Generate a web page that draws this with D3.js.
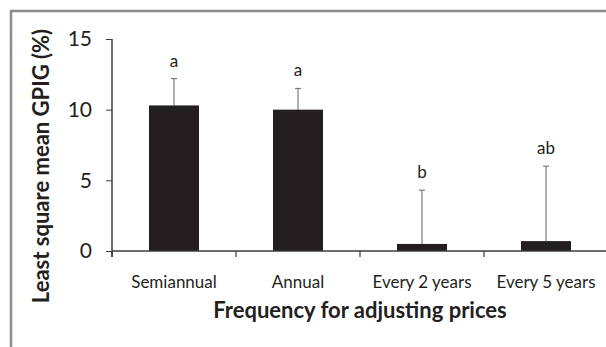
<!DOCTYPE html>
<html>
<head>
<meta charset="utf-8">
<script src="https://cdn.jsdelivr.net/npm/d3@7"></script>
<style>
  body { margin: 0; background: #fff; }
  .axis text { font-family: Lato, "Open Sans", sans-serif; fill: #231f20; }
  .axis path, .axis line { stroke: #3a3a3a; }
</style>
</head>
<body>
<div class="chart"></div>
<script>
const categories = ["Semiannual", "Annual", "Every 2 years", "Every 5 years"]
const means = [10.3, 10.0, 0.5, 0.7]
const upper = [12.2, 11.5, 4.3, 6.0]
const letters = ["a", "a", "b", "ab"]
const yTicks = [0, 5, 10, 15]

const W = 606, H = 347
const margin = ({top: 39, right: -2, bottom: 96, left: 112})
const width = W - margin.left - margin.right
const height = H - margin.top - margin.bottom

const root = d3.select('.chart').append('svg')
    .attr("width", W)
    .attr("height", H)

// grey frame (top and left edges visible)
root.append('path')
    .attr('d', `M11,${H} L11,11 L${W},11`)
    .attr('fill', 'none')
    .attr('stroke', '#8c8c8c')
    .attr('stroke-width', 2.5)

const svg = root.append("g")
    .attr("transform", "translate(" + margin.left + "," + margin.top + ")")

const xScale = d3.scaleBand()
    .domain(categories)
    .range([0, width])

const yScale = d3.scaleLinear()
    .domain([0, 15])
    .range([height, 0])

const barW = 50

// error bars
const err = svg.selectAll('.err')
    .data(categories)
    .enter()
    .append('g')
    .attr('class', 'err')
err.append('line')
    .attr('x1', d => xScale(d) + xScale.bandwidth() / 2)
    .attr('x2', d => xScale(d) + xScale.bandwidth() / 2)
    .attr('y1', (d, i) => yScale(means[i]))
    .attr('y2', (d, i) => yScale(upper[i]))
    .attr('stroke', '#7a7a7a')
    .attr('stroke-width', 1.2)
err.append('line')
    .attr('x1', d => xScale(d) + xScale.bandwidth() / 2 - 3)
    .attr('x2', d => xScale(d) + xScale.bandwidth() / 2 + 3)
    .attr('y1', (d, i) => yScale(upper[i]))
    .attr('y2', (d, i) => yScale(upper[i]))
    .attr('stroke', '#7a7a7a')
    .attr('stroke-width', 1.2)

svg.selectAll('.bar')
    .data(categories)
    .enter()
    .append('rect')
    .attr('class', 'bar')
    .attr('x', d => xScale(d) + xScale.bandwidth() / 2 - barW / 2)
    .attr('y', (d, i) => yScale(means[i]))
    .attr('width', barW)
    .attr('height', (d, i) => height - yScale(means[i]))
    .style('fill', '#231f20')

svg.selectAll('.letter')
    .data(categories)
    .enter()
    .append('text')
    .attr('class', 'letter')
    .attr('x', d => xScale(d) + xScale.bandwidth() / 2)
    .attr('y', (d, i) => yScale(upper[i]) - 12)
    .attr('text-anchor', 'middle')
    .style('font-family', 'Lato, "Open Sans", sans-serif')
    .style('font-size', '17px')
    .style('fill', '#231f20')
    .text((d, i) => letters[i])

const xAxis = d3.axisBottom(xScale)
    .tickSize(0)
    .tickPadding(25)

const xg = svg.append("g")
    .attr("class", "axis x-axis")
    .attr("transform", `translate(0, ${height})`)
    .call(xAxis)
xg.select('.domain').attr('d', `M0,0H${width}`).attr('stroke-width', 1.5)
xg.selectAll('text').style('font-size', '17px')
// category boundary ticks
xg.selectAll('.bound')
    .data(categories)
    .enter()
    .append('line')
    .attr('class', 'bound')
    .attr('x1', d => xScale(d)).attr('x2', d => xScale(d))
    .attr('y1', 0).attr('y2', 6)
    .attr('stroke', '#3a3a3a')
    .attr('stroke-width', 1.2)

const yAxis = d3.axisLeft(yScale)
    .tickValues(yTicks)
    .tickSizeOuter(0)
    .tickSizeInner(6)
    .tickPadding(14)

const yg = svg.append("g")
    .attr("class", "axis y-axis")
    .call(yAxis)
yg.select('.domain').attr('stroke-width', 1.5).attr('d', `M0,${height + 6}V0`)
yg.selectAll('text').style('font-size', '21px')

svg.append('text')
    .attr('x', width / 2)
    .attr('y', height + 67)
    .attr('text-anchor', 'middle')
    .style('font-family', 'Lato, "Open Sans", sans-serif')
    .style('font-weight', 'bold')
    .style('font-size', '22px')
    .style('fill', '#231f20')
    .text("Frequency for adjusting prices")

svg.append('text')
    .attr('transform', `translate(${-63}, ${height / 2 + 21}) rotate(-90)`)
    .attr('text-anchor', 'middle')
    .style('font-family', 'Lato, "Open Sans", sans-serif')
    .style('font-weight', 'bold')
    .style('font-size', '22px')
    .style('fill', '#231f20')
    .text("Least square mean GPIG (%)")
</script>
</body>
</html>
